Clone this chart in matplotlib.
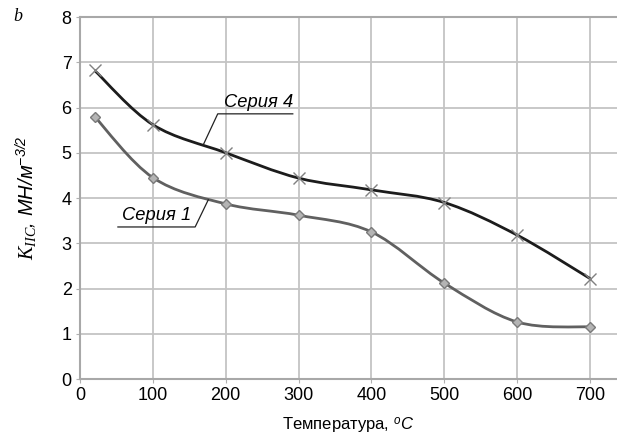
import matplotlib
matplotlib.use("Agg")
import matplotlib.pyplot as plt
from matplotlib.path import Path
from matplotlib.patches import PathPatch
import numpy as np

plt.rcParams['font.family'] = ['Liberation Sans', 'DejaVu Sans']
plt.rcParams['mathtext.fontset'] = 'custom'
plt.rcParams['mathtext.it'] = 'Liberation Serif:italic'
plt.rcParams['mathtext.rm'] = 'Liberation Serif'
plt.rcParams['mathtext.sf'] = 'Liberation Sans:italic'

temps = [20, 100, 200, 300, 400, 500, 600, 700]
series4 = [6.82, 5.62, 5.0, 4.44, 4.18, 3.9, 3.18, 2.22]
series1 = [5.8, 4.45, 3.87, 3.62, 3.25, 2.12, 1.26, 1.15]
x_ticks = [0, 100, 200, 300, 400, 500, 600, 700]
y_ticks = [0, 1, 2, 3, 4, 5, 6, 7, 8]


def smooth_path(xs, ys):
    # cubic bezier through the points, control points from neighbouring points
    pts = np.column_stack([xs, ys]).astype(float)
    n = len(pts)
    verts = [pts[0]]
    codes = [Path.MOVETO]
    for i in range(n - 1):
        p0 = pts[i - 1] if i > 0 else pts[i]
        p1 = pts[i]
        p2 = pts[i + 1]
        p3 = pts[i + 2] if i + 2 < n else pts[i + 1]
        c1 = p1 + (p2 - p0) / 6.0
        c2 = p2 - (p3 - p1) / 6.0
        verts += [c1, c2, p2]
        codes += [Path.CURVE4] * 3
    return Path(verts, codes)


fig = plt.figure(figsize=(6.17, 4.36), dpi=100)
ax = fig.add_axes([0.1297, 0.1307, 0.8703, 0.8303])

ax.set_xlim(0, 737)
ax.set_ylim(0, 8)
ax.set_xticks(x_ticks)
ax.set_yticks(y_ticks)
ax.grid(True, color='#c4c4c4', lw=1.3)
ax.set_axisbelow(True)
ax.spines['right'].set_visible(False)
for side in ['left', 'bottom', 'top']:
    ax.spines[side].set_color('#a8a8a8')
    ax.spines[side].set_linewidth(1.5)
ax.tick_params(length=3, color='#b0b0b0', labelsize=13, pad=3)

ax.add_patch(PathPatch(smooth_path(temps, series4), fill=False,
                       edgecolor='#1c1c1c', lw=2.0, zorder=3))
ax.add_patch(PathPatch(smooth_path(temps, series1), fill=False,
                       edgecolor='#606060', lw=2.0, zorder=3))
ax.plot(temps, series4, ls='none', marker='x', ms=8, mew=1.0,
        color='#808080', zorder=4)
ax.plot(temps, series1, ls='none', marker='D', ms=5.5, mew=1.0,
        mfc='#b4b4b4', mec='#7a7a7a', zorder=4)

# series labels with leader lines
ax.plot([169, 189, 292], [5.17, 5.86, 5.86], color='#222222', lw=0.9, zorder=5)
ax.text(292, 5.92, 'Серия 4', ha='right', va='bottom', fontsize=13.2,
        style='italic', zorder=5)
ax.plot([176, 158, 52], [3.96, 3.36, 3.36], color='#222222', lw=0.9, zorder=5)
ax.text(153, 3.42, 'Серия 1', ha='right', va='bottom', fontsize=13.2,
        style='italic', zorder=5)

ax.set_xlabel(r'Температура, $^{\mathsf{o}}\mathsf{C}$', fontsize=12, labelpad=8)
ax.set_ylabel(r'$\mathit{K}_{IIC}$, МН/м$^{\mathsf{-3/2}}$', fontsize=14.5,
              style='italic', labelpad=16)

fig.text(0.022, 0.962, 'b', family='Liberation Serif', style='italic',
         fontsize=13, va='center', ha='left')

fig.savefig('out.png', dpi=100)
